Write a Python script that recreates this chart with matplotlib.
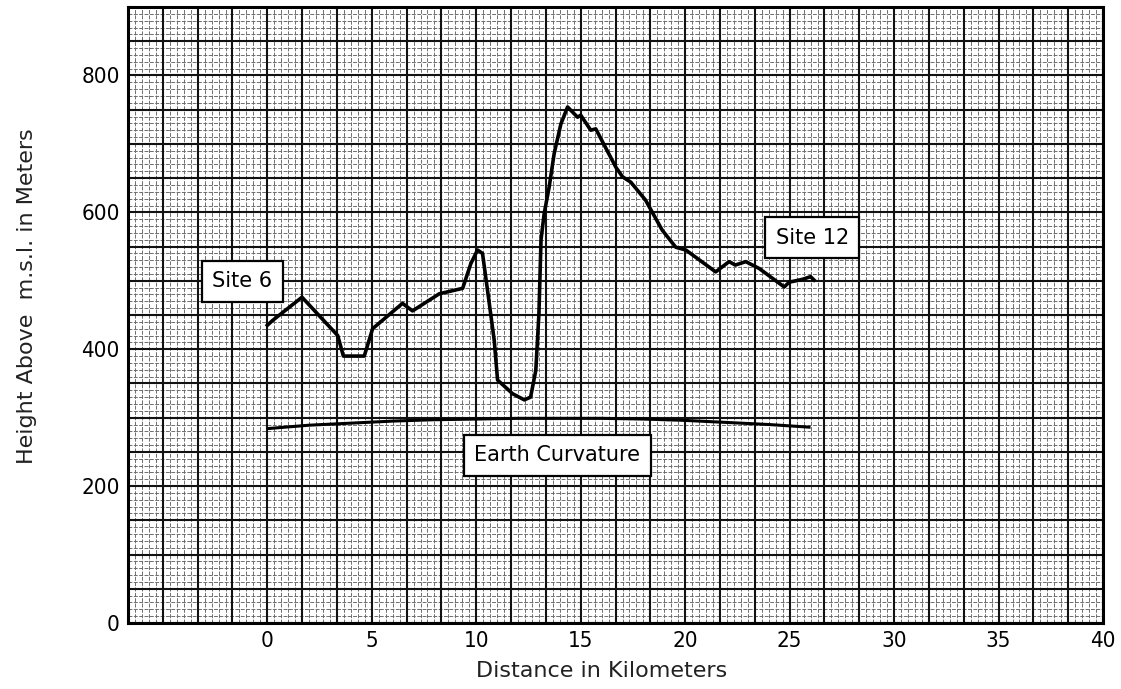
import numpy as np
import matplotlib
matplotlib.use("Agg")
import matplotlib.pyplot as plt
from matplotlib import font_manager

# terrain profile between the two sites (km, m)
dist_km = [0.0, 0.25, 1.66, 3.37, 3.64, 4.64, 5.04, 6.47, 6.95, 8.23, 9.35, 9.74,
           10.06, 10.3, 10.54, 10.86, 11.02, 11.74, 12.3, 12.6, 12.85, 13.0, 13.1,
           13.25, 13.49, 13.73, 14.05, 14.37, 14.85, 15.0, 15.48, 15.72, 16.68,
           17.0, 17.4, 18.1, 18.9, 19.55, 20.03, 21.46, 22.1, 22.4, 22.9, 23.54,
           24.74, 24.98, 25.6, 26.0, 26.17]
height_m = [435, 442, 476, 420, 390, 390, 430, 467, 456, 481, 489, 525,
            545, 540, 486, 413, 355, 335, 326, 330, 369, 452, 560,
            598, 637, 686, 729, 754, 739, 742, 720, 722, 666,
            652, 644, 618, 574, 549, 545, 513, 528, 523, 528, 518,
            491, 498, 502, 506, 501]

# earth curvature reference line
curve_km = [0, 2, 4, 6, 8, 10, 12, 14, 16, 18, 20, 22, 24, 26]
curve_m = [284, 289, 292, 295, 297, 298, 299, 299, 299, 298, 296, 293, 290, 286]

x_ticks = [0, 5, 10, 15, 20, 25, 30, 35, 40]
y_ticks = [0, 200, 400, 600, 800]

names = {f.name for f in font_manager.fontManager.ttflist}
num_font = "Liberation Sans Narrow" if "Liberation Sans Narrow" in names else "DejaVu Sans"
txt_font = "DejaVu Sans"

fig = plt.figure(figsize=(11.21, 6.89), dpi=100)
ax = fig.add_axes([0.1142, 0.0958, 0.8698, 0.894])

xmin, xmax = -20 / 3, 40
ymin, ymax = 0, 900
ax.set_xlim(xmin, xmax)
ax.set_ylim(ymin, ymax)

# graph paper: fine lines, then heavy squares
sq_x = 5 / 3
sq_y = 50
fine_x = np.arange(xmin, xmax + 1e-6, sq_x / 5)
fine_y = np.arange(ymin, ymax + 1e-6, sq_y / 5)
ax.vlines(fine_x, ymin, ymax, colors="#6e6e6e", linewidth=0.7, linestyles=(0, (4, 1.5)), zorder=1)
ax.hlines(fine_y, xmin, xmax, colors="#6e6e6e", linewidth=0.7, linestyles=(0, (4, 1.5)), zorder=1)
ax.vlines(np.arange(xmin, xmax + 1e-6, sq_x), ymin, ymax, colors="#111111", linewidth=1.5, zorder=2)
ax.hlines(np.arange(ymin, ymax + 1e-6, sq_y), xmin, xmax, colors="#111111", linewidth=1.5, zorder=2)

ax.plot(curve_km, curve_m, color="black", linewidth=2.2, solid_capstyle="butt", zorder=4)
ax.plot(dist_km, height_m, color="black", linewidth=2.6, solid_joinstyle="round", zorder=5)

box = dict(boxstyle="square,pad=0.5", facecolor="white", edgecolor="black", linewidth=1.6)
ax.text(-1.2, 499, "Site 6", ha="center", va="center", fontsize=15, family=txt_font, bbox=box, zorder=6)
ax.text(26.08, 563, "Site 12", ha="center", va="center", fontsize=15, family=txt_font, bbox=box, zorder=6)
ax.text(13.88, 245, "Earth Curvature", ha="center", va="center", fontsize=15, family=txt_font, bbox=box, zorder=6)

ax.set_xticks(x_ticks)
ax.set_yticks(y_ticks)
ax.set_xticklabels([str(v) for v in x_ticks], family=num_font, fontsize=16, fontstretch="condensed")
ax.set_yticklabels([str(v) for v in y_ticks], family=num_font, fontsize=16, fontstretch="condensed")
ax.tick_params(length=0, pad=6)

for s in ax.spines.values():
    s.set_linewidth(2.2)
    s.set_color("black")

ax.set_xlabel("Distance in Kilometers", family=txt_font, fontsize=16, color="#222222")
ax.xaxis.set_label_coords(0.486, -0.062)
ax.set_ylabel("Height Above  m.s.l. in Meters", family=txt_font, fontsize=16, color="#222222")
ax.yaxis.set_label_coords(-0.093, 0.53)

fig.savefig("out.png", dpi=100, facecolor="white")
